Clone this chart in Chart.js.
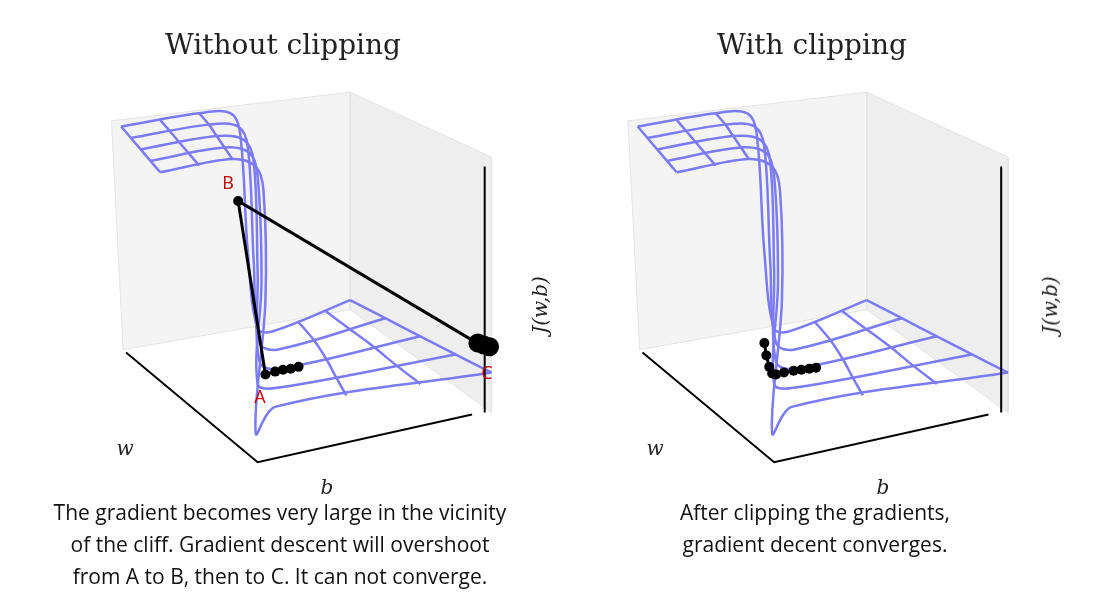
<!DOCTYPE html>
<html><head><meta charset="utf-8">
<script src="https://cdn.jsdelivr.net/npm/chart.js@4.4.0/dist/chart.umd.min.js"></script>
<style>
body{margin:0;background:#fff;width:1099px;height:604px;overflow:hidden;position:relative;font-family:"Open Sans",sans-serif}
#wrap{position:absolute;left:0;top:0;width:1099px;height:604px}
.t{position:absolute;white-space:nowrap;transform:translate(-50%,-50%)}
.title{font-family:"DejaVu Serif",serif;font-size:28px;color:#222}
.ax{font-family:"DejaVu Serif",serif;font-style:italic;font-size:20px;color:#222}
.cap{font-size:21px;color:#111;text-align:center;line-height:32px;transform:translate(-50%,0)}
.lab{color:#c00000;font-size:18px}
</style></head><body>
<div id="wrap"><canvas id="c"></canvas></div>
<div class="t title" style="left:283px;top:44px">Without clipping</div>
<div class="t title" style="left:812px;top:44px">With clipping</div>
<div class="t ax" style="left:125px;top:448px">w</div>
<div class="t ax" style="left:655px;top:448px">w</div>
<div class="t ax" style="left:327px;top:487px">b</div>
<div class="t ax" style="left:883px;top:487px">b</div>
<div class="t ax" style="left:540px;top:305px;transform:translate(-50%,-50%) rotate(-90deg)">J(w,b)</div>
<div class="t ax" style="left:1050px;top:305px;transform:translate(-50%,-50%) rotate(-90deg)">J(w,b)</div>
<div class="t lab" style="left:228px;top:182px">B</div>
<div class="t lab" style="left:260px;top:396px">A</div>
<div class="t lab" style="left:487px;top:372px">C</div>
<div class="t cap" style="left:280px;top:496px">The gradient becomes very large in the vicinity<br>of the cliff. Gradient descent will overshoot<br>from A to B, then to C. It can not converge.</div>
<div class="t cap" style="left:815px;top:496px">After clipping the gradients,<br>gradient decent converges.</div>
<script>
// surface curves along b (back to front), panel-local picture units
const curveB = [
  [[110,118],[190,104],[222,104],[232,125],[240,250],[250,330],[265,333],[345,300]],
  [[120,130],[200,116],[230,118],[240,140],[246,260],[252,345],[270,352],[381,319]],
  [[130,142],[208,128],[236,132],[246,155],[250,270],[252,365],[272,372],[417,338]],
  [[140,154],[216,140],[242,146],[250,170],[254,280],[250,388],[270,392],[453,357]],
  [[150,166],[224,152],[248,160],[256,185],[258,300],[248,440],[268,412],[490,376]]
];
// cross lines along w
const curveW = [
  [[110,118],[120,130],[130,142],[140,154],[150,166]],
  [[150,111],[160,123],[170,135],[180,147],[190,159]],
  [[190,104],[200,116],[208,128],[216,140],[224,152]],
  [[291,322],[307,341],[320,361],[330,380],[341,400]],
  [[319,311],[344,330],[369,349],[393,369],[417,388]],
  [[345,300],[381,319],[417,338],[453,357],[490,376]]
];
const wallLeft = [[100,112],[345,82],[345,310],[112,352],[100,112]];
const wallRight = [[345,82],[490,150],[490,418],[345,310],[345,82]];
const edgesBlack = [[[115,355],[250,470],[470,420]], [[483,160],[483,418]]];
const pathNoClip = [[480,348],[230,196],[258,378],[268,375],[276,373],[284,372],[292,370]];
const blobC = [[476,345],[482,347],[488,349]];
const pathClip = [[240,345],[242,358],[245,370],[248,377],[252,378],[260,376],[270,374],[278,373],[286,372],[293,371]];
const offsetRight = 530;

const pts = (arr, dx) => arr.map(p => ({x: p[0] + dx, y: p[1]}));
const ds = [];
[0, offsetRight].forEach(dx => {
  ds.push({data: pts(wallLeft, dx), borderColor: '#e4e4e4', borderWidth: 1, backgroundColor: '#f4f4f4', fill: 'shape', pointRadius: 0, order: 10});
  ds.push({data: pts(wallRight, dx), borderColor: '#e4e4e4', borderWidth: 1, backgroundColor: '#eeeeee', fill: 'shape', pointRadius: 0, order: 10});
  curveB.forEach(c => ds.push({data: pts(c, dx), borderColor: '#7b7bf5', borderWidth: 2.5, tension: 0.35, pointRadius: 0, order: 5}));
  curveW.forEach(c => ds.push({data: pts(c, dx), borderColor: '#7b7bf5', borderWidth: 2.5, tension: 0.3, pointRadius: 0, order: 5}));
  edgesBlack.forEach(c => ds.push({data: pts(c, dx), borderColor: '#000', borderWidth: 2, pointRadius: 0, order: 4}));
});
ds.push({data: pts(pathNoClip, 0), borderColor: '#000', borderWidth: 3, pointRadius: 5, pointBackgroundColor: '#000', pointBorderWidth: 0, order: 1});
ds.push({data: pts(blobC, 0), borderColor: '#000', borderWidth: 9, pointRadius: 5, pointBackgroundColor: '#000', order: 1});
ds.push({data: pts(pathClip, offsetRight), borderColor: '#000', borderWidth: 3, pointRadius: 5, pointBackgroundColor: '#000', pointBorderWidth: 0, order: 1});
ds.forEach(d => { d.showLine = true; });

new Chart(document.getElementById('c'), {
  type: 'scatter',
  data: {datasets: ds},
  options: {
    responsive: true, maintainAspectRatio: false, animation: false,
    layout: {padding: 0},
    plugins: {legend: {display: false}, tooltip: {enabled: false}},
    scales: {
      x: {type: 'linear', min: 0, max: 1099, display: false},
      y: {type: 'linear', min: 0, max: 604, reverse: true, display: false}
    }
  }
});
</script>
</body></html>
